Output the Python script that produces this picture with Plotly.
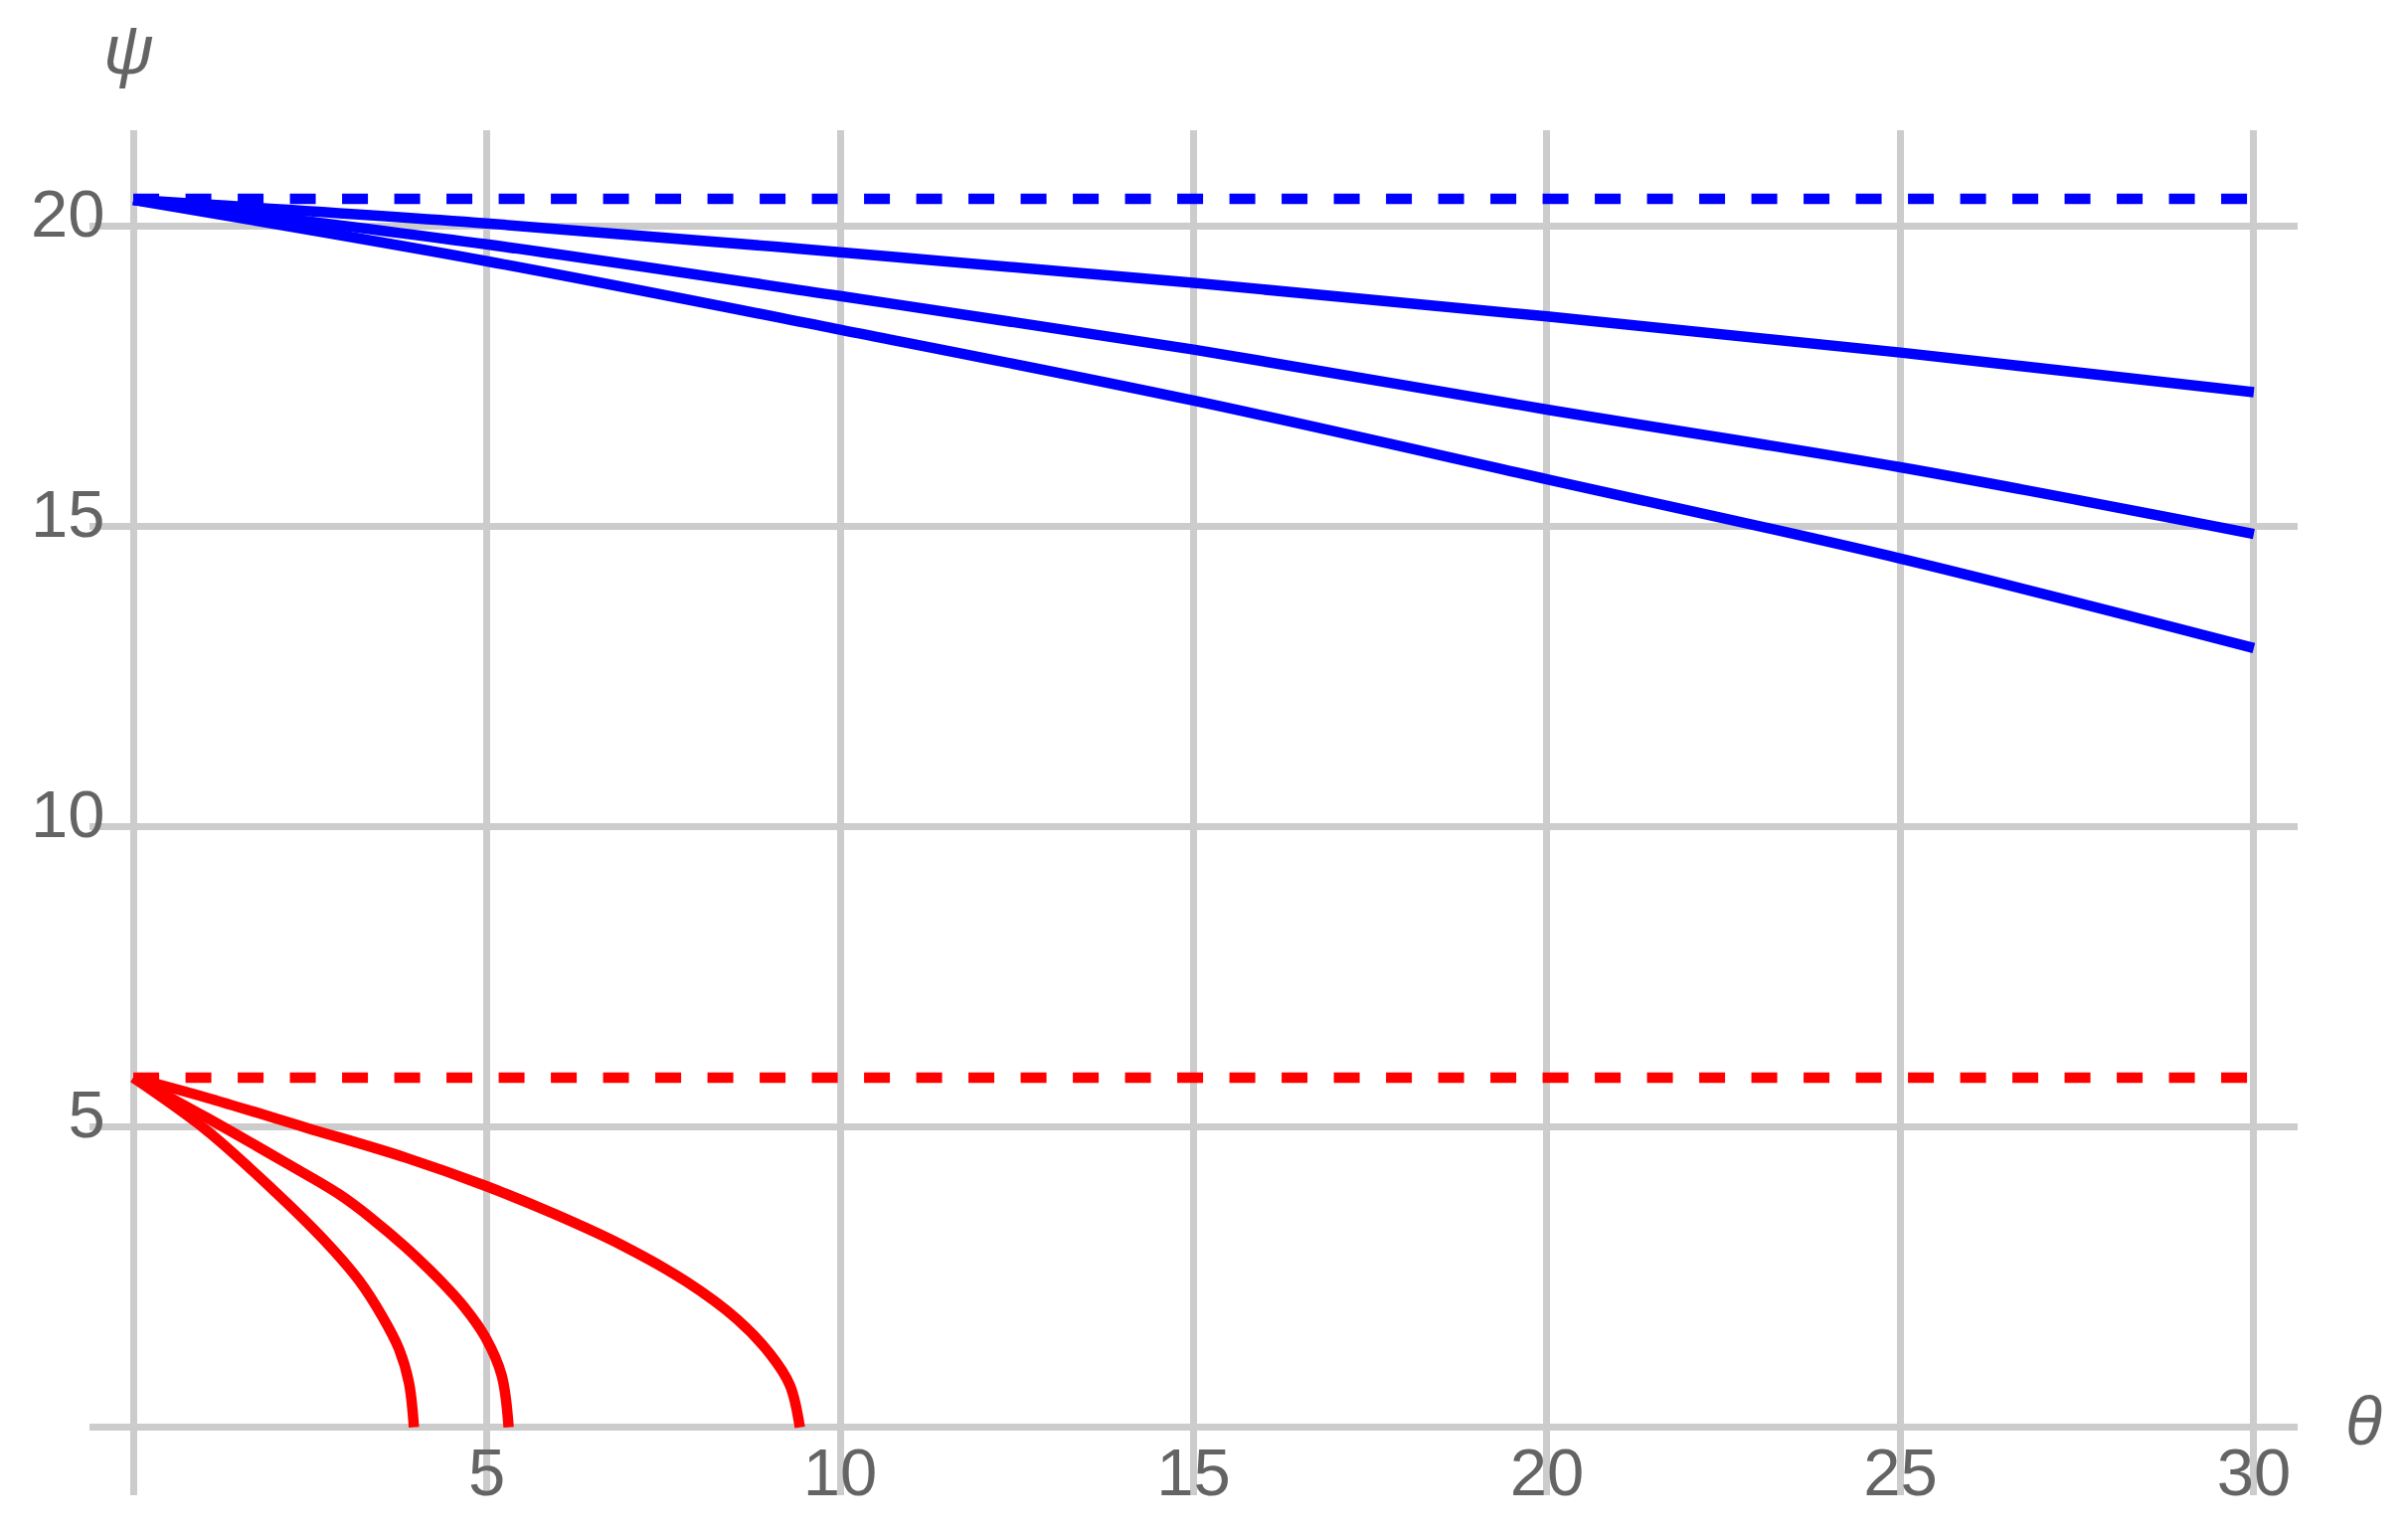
'''
plot.py
Overview:
    Recreates the psi vs theta plot: blue and red families of curves,
    each with a dashed reference level.
'''

import plotly.graph_objects as go


'''
DATA
values read off the reference picture
'''
# blue family, sampled every 5 units of theta
blue_theta = [0, 5, 10, 15, 20, 25, 30]
blue_top = [20.43, 20.04, 19.56, 19.05, 18.49, 17.89, 17.23]
blue_mid = [20.43, 19.69, 18.83, 17.94, 16.94, 15.98, 14.87]
blue_low = [20.43, 19.41, 18.27, 17.09, 15.78, 14.46, 12.97]
blue_level = 20.45

# red family, each curve ends where psi reaches 0
red_a_theta = [0, 1.03, 1.97, 2.68, 3.19, 3.52, 3.76, 3.90, 3.97]
red_a_psi = [5.82, 4.95, 3.96, 3.14, 2.45, 1.85, 1.30, 0.74, 0]

red_b_theta = [0, 1.03, 2.16, 2.91, 3.38, 3.85, 4.32, 4.69, 4.98, 5.21, 5.31]
red_b_psi = [5.82, 5.16, 4.40, 3.88, 3.47, 3.00, 2.47, 1.99, 1.50, 0.87, 0]

red_c_theta = [0, 1.03, 2.44, 3.85, 4.98, 5.96, 6.90, 7.83, 8.54, 9.01, 9.29, 9.43]
red_c_psi = [5.82, 5.49, 4.99, 4.49, 4.02, 3.55, 3.04, 2.42, 1.80, 1.22, 0.70, 0]
red_level = 5.82

# level lines run over the whole theta range
level_theta = [0, 30]

# ticks
x_ticks = [5, 10, 15, 20, 25, 30]
y_ticks = [5, 10, 15, 20]


'''
STYLE
'''
BLUE = '#0000ff'
RED = '#ff0000'
GRID = '#cccccc'
AXIS = '#7a7a7a'
LABEL = '#646464'
FONT = 'Liberation Sans, Arial, sans-serif'
LINE_W = 10.5
DASH = '26px,26.5px'
TICK_SIZE = 67


fig = go.Figure()

# blue curves
for ys in [blue_top, blue_mid, blue_low]:
    fig.add_trace(go.Scatter(x=blue_theta, y=ys, mode='lines',
                             line=dict(color=BLUE, width=LINE_W, shape='spline', smoothing=1),
                             hoverinfo='skip'))
fig.add_trace(go.Scatter(x=level_theta, y=[blue_level] * 2, mode='lines',
                         line=dict(color=BLUE, width=LINE_W, dash=DASH),
                         hoverinfo='skip'))

# red curves
for xs, ys in [(red_a_theta, red_a_psi), (red_b_theta, red_b_psi), (red_c_theta, red_c_psi)]:
    fig.add_trace(go.Scatter(x=xs, y=ys, mode='lines',
                             line=dict(color=RED, width=LINE_W, shape='spline', smoothing=1),
                             hoverinfo='skip'))
fig.add_trace(go.Scatter(x=level_theta, y=[red_level] * 2, mode='lines',
                         line=dict(color=RED, width=LINE_W, dash=DASH),
                         hoverinfo='skip'))

# tick labels sit partly inside the frame, like the original
fig.add_trace(go.Scatter(x=x_ticks, y=[-0.86] * len(x_ticks), mode='text',
                         text=[str(t) for t in x_ticks], textposition='middle center',
                         textfont=dict(family=FONT, size=TICK_SIZE, color=LABEL),
                         cliponaxis=False, hoverinfo='skip'))
fig.add_trace(go.Scatter(x=[-0.40] * len(y_ticks), y=[t + 0.1 for t in y_ticks], mode='text',
                         text=[str(t) for t in y_ticks], textposition='middle left',
                         textfont=dict(family=FONT, size=TICK_SIZE, color=LABEL),
                         cliponaxis=False, hoverinfo='skip'))

# axis lines through the origin, above the grid
fig.add_shape(type='line', xref='x', yref='paper', x0=0, x1=0, y0=0, y1=1,
              line=dict(color=AXIS, width=1.5), layer='between')
fig.add_shape(type='line', xref='paper', yref='y', x0=0, x1=1, y0=0, y1=0,
              line=dict(color=AXIS, width=1.5), layer='between')

# axis names
fig.add_annotation(text='ψ', xref='paper', yref='paper', x=0.0176, y=1.059,
                   xanchor='center', yanchor='middle', showarrow=False,
                   font=dict(family=FONT, size=70, color=LABEL, style='italic'))
fig.add_annotation(text='θ', xref='paper', yref='paper', x=1.030, y=0.0545,
                   xanchor='center', yanchor='middle', showarrow=False,
                   font=dict(family=FONT, size=68, color=LABEL, style='italic'))

fig.update_xaxes(range=[-0.62, 30.62], tickvals=[0] + x_ticks, showticklabels=False,
                 showgrid=True, gridcolor=GRID, gridwidth=7,
                 zeroline=False, showline=False, ticks='')
fig.update_yaxes(range=[-1.13, 21.59], tickvals=[0] + y_ticks, showticklabels=False,
                 showgrid=True, gridcolor=GRID, gridwidth=7,
                 zeroline=False, showline=False, ticks='')

fig.update_layout(width=2422, height=1542,
                  margin=dict(l=82, r=119, t=123, b=46),
                  paper_bgcolor='white', plot_bgcolor='white',
                  showlegend=False)

fig.write_html('out.html')
